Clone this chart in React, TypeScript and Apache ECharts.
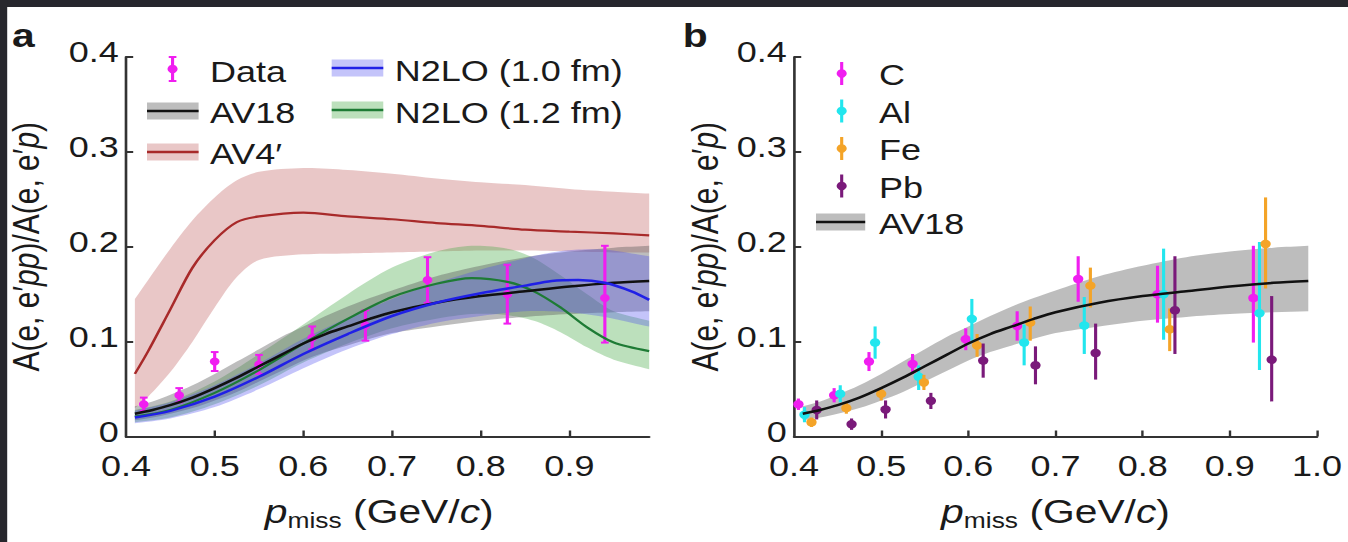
import React, { useEffect, useRef } from 'react';
import * as echarts from 'echarts';

// The reference figure is horizontally stretched; we draw at a narrower width and scale X.
const STRETCH = 1.2;
const CHART_W = 1124;
const CHART_H = 542;
const FONT = '"Liberation Sans", Arial, Helvetica, sans-serif';
const TEXT = '#1a1a1a';
const AXIS = '#333333';
const DARK = '#27272d';

const MAGENTA = '#f01ef0';
const CYAN = '#22e6ee';
const ORANGE = '#f4a428';
const PURPLE = '#7a1a7a';

// ---------- Panel a : carbon data ----------
const dataX = [0.42, 0.46, 0.50, 0.55, 0.61, 0.67, 0.74, 0.83, 0.94];
const dataY = [0.034, 0.0435, 0.079, 0.076, 0.104, 0.117, 0.165, 0.150, 0.146];
const dataLo = [0.027, 0.036, 0.069, 0.066, 0.092, 0.101, 0.141, 0.119, 0.099];
const dataHi = [0.041, 0.051, 0.089, 0.086, 0.116, 0.133, 0.189, 0.181, 0.201];

// AV18 (both panels)
const av18X = [0.41, 0.43, 0.45, 0.475, 0.50, 0.525, 0.55, 0.575, 0.60, 0.625, 0.65, 0.675, 0.70, 0.75, 0.80, 0.85, 0.90, 0.95, 0.99];
const av18Y = [0.024, 0.028, 0.033, 0.041, 0.051, 0.062, 0.074, 0.086, 0.098, 0.108, 0.116, 0.124, 0.131, 0.141, 0.148, 0.153, 0.158, 0.162, 0.164];
const av18Lo = [0.017, 0.020, 0.024, 0.030, 0.038, 0.047, 0.058, 0.069, 0.080, 0.089, 0.096, 0.103, 0.109, 0.116, 0.122, 0.126, 0.129, 0.131, 0.132];
const av18Hi = [0.032, 0.037, 0.044, 0.054, 0.066, 0.079, 0.092, 0.105, 0.116, 0.127, 0.137, 0.146, 0.154, 0.169, 0.180, 0.189, 0.195, 0.199, 0.201];

// AV4'
const av4X = [0.41, 0.425, 0.45, 0.475, 0.50, 0.525, 0.55, 0.60, 0.65, 0.70, 0.75, 0.80, 0.85, 0.90, 0.95, 0.99];
const av4Y = [0.066, 0.090, 0.134, 0.178, 0.207, 0.226, 0.232, 0.236, 0.232, 0.229, 0.225, 0.222, 0.218, 0.216, 0.214, 0.212];
const av4Lo = [0.030, 0.042, 0.068, 0.100, 0.136, 0.168, 0.186, 0.192, 0.193, 0.194, 0.195, 0.196, 0.196, 0.195, 0.194, 0.194];
const av4Hi = [0.145, 0.165, 0.198, 0.228, 0.252, 0.270, 0.279, 0.283, 0.281, 0.277, 0.272, 0.268, 0.265, 0.261, 0.258, 0.256];

// N2LO (1.0 fm)
const n10X = [0.41, 0.45, 0.50, 0.55, 0.60, 0.65, 0.70, 0.75, 0.80, 0.85, 0.88, 0.91, 0.94, 0.97, 0.99];
const n10Y = [0.020, 0.027, 0.042, 0.063, 0.087, 0.108, 0.127, 0.141, 0.151, 0.159, 0.164, 0.165, 0.162, 0.153, 0.144];
const n10Lo = [0.014, 0.019, 0.031, 0.050, 0.072, 0.092, 0.108, 0.120, 0.127, 0.132, 0.132, 0.130, 0.126, 0.120, 0.116];
const n10Hi = [0.027, 0.036, 0.054, 0.077, 0.103, 0.125, 0.145, 0.162, 0.176, 0.188, 0.194, 0.197, 0.197, 0.193, 0.190];

// N2LO (1.2 fm)
const n12X = [0.41, 0.45, 0.50, 0.55, 0.60, 0.65, 0.70, 0.75, 0.79, 0.83, 0.86, 0.89, 0.92, 0.95, 0.99];
const n12Y = [0.021, 0.028, 0.046, 0.070, 0.098, 0.124, 0.147, 0.161, 0.167, 0.163, 0.153, 0.136, 0.115, 0.099, 0.090];
const n12Lo = [0.015, 0.020, 0.034, 0.054, 0.078, 0.098, 0.114, 0.124, 0.129, 0.128, 0.122, 0.110, 0.094, 0.081, 0.071];
const n12Hi = [0.028, 0.037, 0.058, 0.087, 0.118, 0.150, 0.178, 0.195, 0.201, 0.198, 0.188, 0.170, 0.150, 0.132, 0.122];

// ---------- Panel b : nuclei ----------
const cX = [0.405, 0.446, 0.486, 0.536, 0.597, 0.656, 0.726, 0.817, 0.927];
const cY = [0.034, 0.0435, 0.079, 0.0765, 0.1026, 0.1165, 0.166, 0.150, 0.146];
const cLo = [0.028, 0.036, 0.069, 0.066, 0.091, 0.101, 0.142, 0.120, 0.099];
const cHi = [0.040, 0.051, 0.089, 0.087, 0.114, 0.132, 0.190, 0.180, 0.201];

const alX = [0.412, 0.453, 0.493, 0.543, 0.604, 0.664, 0.733, 0.824, 0.934];
const alY = [0.023, 0.045, 0.099, 0.063, 0.124, 0.099, 0.117, 0.150, 0.130];
const alLo = [0.015, 0.036, 0.082, 0.049, 0.101, 0.075, 0.087, 0.102, 0.070];
const alHi = [0.031, 0.054, 0.116, 0.075, 0.145, 0.118, 0.147, 0.198, 0.205];

const feX = [0.420, 0.460, 0.500, 0.549, 0.610, 0.671, 0.740, 0.831, 0.941];
const feY = [0.015, 0.030, 0.045, 0.057, 0.096, 0.120, 0.159, 0.113, 0.203];
const feLo = [0.010, 0.024, 0.038, 0.049, 0.084, 0.101, 0.136, 0.090, 0.156];
const feHi = [0.020, 0.036, 0.052, 0.065, 0.108, 0.137, 0.178, 0.135, 0.252];

const pbX = [0.426, 0.466, 0.505, 0.557, 0.617, 0.677, 0.746, 0.837, 0.948];
const pbY = [0.028, 0.013, 0.0285, 0.0376, 0.080, 0.075, 0.088, 0.133, 0.081];
const pbLo = [0.018, 0.007, 0.019, 0.029, 0.062, 0.055, 0.060, 0.087, 0.037];
const pbHi = [0.038, 0.019, 0.038, 0.046, 0.098, 0.095, 0.119, 0.190, 0.148];

// ticks / labels
const yTickValues = [0.1, 0.2, 0.3, 0.4];
const xLabelsA = [0.4, 0.5, 0.6, 0.7, 0.8, 0.9];
const xTicksA = [0.5, 0.6, 0.7, 0.8, 0.9];
const xLabelsB = [0.4, 0.5, 0.6, 0.7, 0.8, 0.9, 1.0];
const xTicksB = [0.5, 0.6, 0.7, 0.8, 0.9, 1.0];

// colours
const PINK_BAND = 'rgba(190, 90, 90, 0.34)';
const RED_LINE = '#a82a2a';
const GREEN_BAND = 'rgba(70, 170, 70, 0.36)';
const GREEN_LINE = '#1e7b35';
const GRAY_BAND = 'rgba(90, 90, 90, 0.40)';
const BLACK_LINE = '#111111';
const BLUE_BAND = 'rgba(70, 70, 240, 0.32)';
const BLUE_LINE = '#2020e6';

function bandSeries(xs: number[], lo: number[], hi: number[], fill: string, axis: number) {
  return {
    type: 'custom',
    xAxisIndex: axis,
    yAxisIndex: axis,
    silent: true,
    data: xs.map((x, i) => [x, lo[i], hi[i]]),
    encode: { x: 0, y: [1, 2] },
    renderItem: (params: any, api: any) => {
      if (params.dataIndex !== 0) return null;
      const up = xs.map((x, i) => api.coord([x, hi[i]]));
      const dn = xs.map((x, i) => api.coord([x, lo[i]])).reverse();
      const pts: number[][] = [];
      up.forEach((p: number[], i: number) => {
        pts.push(p);
        if (i === 0 || i === up.length - 1) pts.push([p[0], p[1]]);
      });
      dn.forEach((p: number[], i: number) => {
        pts.push(p);
        if (i === 0 || i === dn.length - 1) pts.push([p[0], p[1]]);
      });
      return { type: 'polygon', shape: { points: pts, smooth: 0.3 }, style: { fill } };
    },
  };
}

function lineSeries(xs: number[], ys: number[], color: string, axis: number, width = 2.5) {
  return {
    type: 'line',
    xAxisIndex: axis,
    yAxisIndex: axis,
    silent: true,
    data: xs.map((x, i) => [x, ys[i]]),
    smooth: 0.3,
    symbol: 'none',
    showSymbol: false,
    lineStyle: { color, width },
  };
}

function errSeries(xs: number[], ys: number[], lo: number[], hi: number[], color: string, axis: number, caps: boolean, r: number) {
  return {
    type: 'custom',
    xAxisIndex: axis,
    yAxisIndex: axis,
    silent: true,
    dimensions: ['x', 'y', 'lo', 'hi'],
    data: xs.map((x, i) => [x, ys[i], lo[i], hi[i]]),
    encode: { x: 0, y: [1, 2, 3] },
    renderItem: (params: any, api: any) => {
      const x = api.value(0);
      const pc = api.coord([x, api.value(1)]);
      const pl = api.coord([x, api.value(2)]);
      const ph = api.coord([x, api.value(3)]);
      const children: any[] = [
        { type: 'line', shape: { x1: pl[0], y1: pl[1], x2: ph[0], y2: ph[1] }, style: { stroke: color, lineWidth: 2.6 } },
      ];
      if (caps) {
        children.push({ type: 'line', shape: { x1: pl[0] - 3.2, y1: pl[1], x2: pl[0] + 3.2, y2: pl[1] }, style: { stroke: color, lineWidth: 2 } });
        children.push({ type: 'line', shape: { x1: ph[0] - 3.2, y1: ph[1], x2: ph[0] + 3.2, y2: ph[1] }, style: { stroke: color, lineWidth: 2 } });
      }
      children.push({ type: 'circle', shape: { cx: pc[0], cy: pc[1], r }, style: { fill: color } });
      return { type: 'group', children };
    },
  };
}

function xAxisDef(grid: number, max: number, labels: number[], ticks: number[], shiftLeft: number) {
  return {
    type: 'value',
    gridIndex: grid,
    min: 0.4,
    max,
    interval: 0.1,
    axisLine: { show: true, onZero: false, lineStyle: { color: AXIS, width: 2.2 } },
    axisTick: { show: true, inside: true, length: 6, lineStyle: { color: AXIS, width: 2 }, customValues: ticks },
    axisLabel: {
      customValues: labels,
      formatter: (v: number) => v.toFixed(1),
      fontSize: 30,
      lineHeight: 30,
      fontFamily: FONT,
      color: TEXT,
      margin: 14,
    },
    splitLine: { show: false },
    name: '{p|p}{sub|miss} (GeV/{i|c})',
    nameLocation: 'middle',
    nameGap: 55,
    nameTextStyle: {
      fontSize: 34,
      fontFamily: FONT,
      color: TEXT,
      lineHeight: 40,
      padding: [0, shiftLeft * 2, 0, 0],
      rich: {
        p: { fontSize: 34, fontFamily: FONT, fontStyle: 'italic', color: TEXT, lineHeight: 40 },
        sub: { fontSize: 22, fontFamily: FONT, color: TEXT, lineHeight: 22, verticalAlign: 'bottom' },
        i: { fontSize: 34, fontFamily: FONT, fontStyle: 'italic', color: TEXT, lineHeight: 40 },
      },
    },
  };
}

function yAxisDef(grid: number, nameGap: number) {
  return {
    type: 'value',
    gridIndex: grid,
    min: 0,
    max: 0.4,
    interval: 0.1,
    axisLine: { show: true, onZero: false, lineStyle: { color: AXIS, width: 2.2 } },
    axisTick: { show: true, inside: true, length: 6, lineStyle: { color: AXIS, width: 2 }, customValues: yTickValues },
    axisLabel: {
      formatter: (v: number) => (v === 0 ? '0' : v.toFixed(1)),
      fontSize: 30,
      lineHeight: 10,
      verticalAlign: 'bottom',
      fontFamily: FONT,
      color: TEXT,
      margin: 6,
    },
    splitLine: { show: false },
    name: 'A(e, e\u2032{i|pp})/A(e, e\u2032{i|p})',
    nameLocation: 'middle',
    nameRotate: 90,
    nameGap,
    nameTextStyle: {
      fontSize: 30,
      fontFamily: FONT,
      color: TEXT,
      rich: { i: { fontSize: 30, fontFamily: FONT, fontStyle: 'italic', color: TEXT } },
    },
  };
}

function txt(x: number, y: number, text: string, size = 30, weight: string = 'normal') {
  return {
    type: 'text',
    x,
    y,
    z: 50,
    silent: true,
    style: { text, fontSize: size, fontFamily: FONT, fontWeight: weight, fill: TEXT, align: 'left', verticalAlign: 'middle' },
  };
}

function bandIcon(x0: number, x1: number, y: number, fill: string, stroke: string) {
  return [
    { type: 'rect', z: 50, silent: true, shape: { x: x0, y: y - 8.5, width: x1 - x0, height: 17 }, style: { fill } },
    { type: 'line', z: 51, silent: true, shape: { x1: x0, y1: y, x2: x1, y2: y }, style: { stroke, lineWidth: 2.5 } },
  ];
}

function errIcon(cx: number, y: number, color: string, caps: boolean, half: number) {
  const els: any[] = [
    { type: 'line', z: 51, silent: true, shape: { x1: cx, y1: y - half, x2: cx, y2: y + half }, style: { stroke: color, lineWidth: 2.6 } },
    { type: 'circle', z: 52, silent: true, shape: { cx, cy: y, r: 4.2 }, style: { fill: color } },
  ];
  if (caps) {
    els.push({ type: 'line', z: 51, silent: true, shape: { x1: cx - 3.2, y1: y - half, x2: cx + 3.2, y2: y - half }, style: { stroke: color, lineWidth: 2 } });
    els.push({ type: 'line', z: 51, silent: true, shape: { x1: cx - 3.2, y1: y + half, x2: cx + 3.2, y2: y + half }, style: { stroke: color, lineWidth: 2 } });
  }
  return els;
}

export default function App() {
  const ref = useRef<HTMLDivElement>(null);
  useEffect(() => {
    if (!ref.current) return;
    const chart = echarts.init(ref.current, null, { renderer: 'svg' });
    const option: any = {
      animation: false,
      backgroundColor: '#ffffff',
      grid: [
        { left: 105, top: 57, width: 436, height: 379.5 },
        { left: 661.7, top: 57, width: 435.8, height: 379.5 },
      ],
      xAxis: [xAxisDef(0, 0.99, xLabelsA, xTicksA, 7), xAxisDef(1, 1.0, xLabelsB, xTicksB, 0)],
      yAxis: [yAxisDef(0, 68), yAxisDef(1, 59)],
      series: [
        bandSeries(av4X, av4Lo, av4Hi, PINK_BAND, 0),
        bandSeries(n12X, n12Lo, n12Hi, GREEN_BAND, 0),
        bandSeries(av18X, av18Lo, av18Hi, GRAY_BAND, 0),
        bandSeries(n10X, n10Lo, n10Hi, BLUE_BAND, 0),
        lineSeries(av4X, av4Y, RED_LINE, 0, 2.2),
        lineSeries(n12X, n12Y, GREEN_LINE, 0, 2.2),
        lineSeries(av18X, av18Y, BLACK_LINE, 0, 2.5),
        lineSeries(n10X, n10Y, BLUE_LINE, 0, 2.5),
        errSeries(dataX, dataY, dataLo, dataHi, MAGENTA, 0, true, 4),

        bandSeries(av18X, av18Lo, av18Hi, GRAY_BAND, 1),
        lineSeries(av18X, av18Y, BLACK_LINE, 1, 2.5),
        errSeries(cX, cY, cLo, cHi, MAGENTA, 1, false, 4.3),
        errSeries(alX, alY, alLo, alHi, CYAN, 1, false, 4.3),
        errSeries(feX, feY, feLo, feHi, ORANGE, 1, false, 4.3),
        errSeries(pbX, pbY, pbLo, pbHi, PURPLE, 1, false, 4.3),
      ],
      graphic: [
        { type: 'rect', z: 100, silent: true, shape: { x: 0, y: 0, width: CHART_W, height: 7 }, style: { fill: DARK } },
        { type: 'rect', z: 100, silent: true, shape: { x: 0, y: 0, width: 6, height: CHART_H }, style: { fill: DARK } },
        txt(10, 35, 'a', 34, 'bold'),
        txt(569, 35, 'b', 34, 'bold'),
        // legend panel a
        ...errIcon(143.8, 69, MAGENTA, true, 12),
        txt(175, 72, 'Data'),
        ...bandIcon(122.5, 165.5, 111, GRAY_BAND, BLACK_LINE),
        txt(175, 113, 'AV18'),
        ...bandIcon(122.5, 165.5, 152, PINK_BAND, RED_LINE),
        txt(175, 154, 'AV4\u2032'),
        ...bandIcon(276.4, 319.4, 68, BLUE_BAND, BLUE_LINE),
        txt(329, 71, 'N2LO (1.0 fm)'),
        ...bandIcon(276.4, 319.4, 110, GREEN_BAND, GREEN_LINE),
        txt(329, 113, 'N2LO (1.2 fm)'),
        // legend panel b
        ...errIcon(701.4, 73.5, MAGENTA, false, 11.5),
        txt(732.5, 75, 'C'),
        ...errIcon(701.4, 111, CYAN, false, 11.5),
        txt(732.5, 112.5, 'Al'),
        ...errIcon(701.4, 148.5, ORANGE, false, 11.5),
        txt(732.5, 150, 'Fe'),
        ...errIcon(701.4, 186, PURPLE, false, 11.5),
        txt(732.5, 187.5, 'Pb'),
        ...bandIcon(680, 721, 222, GRAY_BAND, BLACK_LINE),
        txt(732.5, 224, 'AV18'),
      ],
    };
    chart.setOption(option);
    return () => chart.dispose();
  }, []);

  return (
    <div style={{ position: 'fixed', left: 0, top: 0, width: 1348, height: CHART_H, overflow: 'hidden', background: '#fff' }}>
      <div
        ref={ref}
        style={{ width: CHART_W, height: CHART_H, transform: `scaleX(${STRETCH})`, transformOrigin: '0 0' }}
      />
    </div>
  );
}
